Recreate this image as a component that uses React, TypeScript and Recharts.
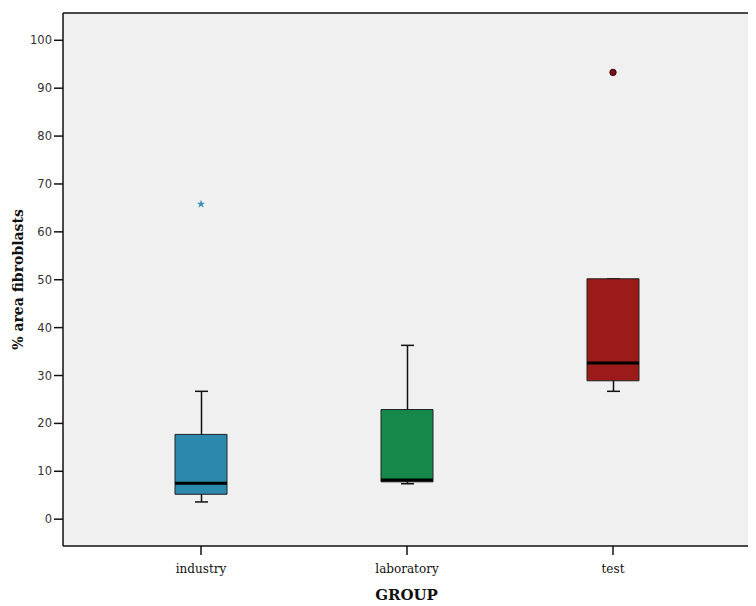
import { ComposedChart, Bar, Scatter, XAxis, YAxis, CartesianGrid, Cell, Symbols } from 'recharts'

const groups = ['industry', 'laboratory', 'test']
const whiskerLow = [3.6, 7.4, 26.7]
const q1 = [5.2, 7.8, 28.9]
const median = [7.5, 8.2, 32.6]
const q3 = [17.7, 22.9, 50.2]
const whiskerHigh = [26.7, 36.3, 50.2]
const starOutliers = [65.8, null, null]
const dotOutliers = [null, null, 93.3]
const yTicks = [0, 10, 20, 30, 40, 50, 60, 70, 80, 90, 100]

const colors = ['#2b89ad', '#15884a', '#9b1a1a']

const data = groups.map((g, i) => ({
  group: g,
  whisker: [whiskerLow[i], whiskerHigh[i]],
  box: [q1[i], q3[i]],
  median: median[i],
  star: starOutliers[i],
  dot: dotOutliers[i],
}))

const serif = '"DejaVu Serif", serif'
const sans = '"DejaVu Sans", sans-serif'

function WhiskerShape(props: any) {
  const { x, y, width, height } = props
  const cx = x + width / 2
  return (
    <g stroke="#111" strokeWidth={1.5}>
      <line x1={cx} x2={cx} y1={y} y2={y + height} />
      <line x1={x} x2={x + width} y1={y} y2={y} />
      <line x1={x} x2={x + width} y1={y + height} y2={y + height} />
    </g>
  )
}

function MedianShape(props: any) {
  const { cx, cy } = props
  return <line x1={cx - 26} x2={cx + 26} y1={cy} y2={cy} stroke="#000" strokeWidth={3} />
}

function StarShape(props: any) {
  const { cx, cy } = props
  if (cy == null || isNaN(cy)) return null
  return <Symbols type="star" cx={cx} cy={cy} size={22} fill="#3a8fb5" />
}

function DotShape(props: any) {
  const { cx, cy } = props
  if (cy == null || isNaN(cy)) return null
  return <circle cx={cx} cy={cy} r={3.2} fill="#7a1418" stroke="#3a0a0a" strokeWidth={1} />
}

export default function App() {
  return (
    <div style={{ width: 748, height: 598 }}>
      <ComposedChart
        width={748}
        height={598}
        data={data}
        margin={{ top: 4, right: 5, bottom: 0, left: 0 }}
      >
        <CartesianGrid fill="#f0f0f0" horizontal={false} vertical={false} />
        <XAxis
          xAxisId="main"
          dataKey="group"
          allowDuplicatedCategory={false}
          padding={{ left: 35, right: 34 }}
          height={60}
          stroke="#111"
          strokeWidth={1.5}
          tickSize={9}
          tickMargin={9}
          tick={{ fill: '#111', fontFamily: serif, fontSize: 12 }}
          label={{
            value: 'GROUP',
            position: 'insideBottom',
            offset: 6,
            fill: '#111',
            fontFamily: serif,
            fontSize: 15,
            fontWeight: 'bold',
          }}
        />
        <XAxis
          xAxisId="w"
          dataKey="group"
          allowDuplicatedCategory={false}
          padding={{ left: 35, right: 34 }}
          hide
        />
        <XAxis
          xAxisId="top"
          dataKey="group"
          orientation="top"
          allowDuplicatedCategory={false}
          height={1}
          tick={false}
          tickLine={false}
          stroke="#111"
          strokeWidth={1.5}
        />
        <YAxis
          domain={[-5.6, 105.7]}
          ticks={yTicks}
          width={55}
          stroke="#111"
          strokeWidth={1.5}
          tickSize={9}
          tickMargin={2}
          tick={{ fill: '#333', fontFamily: sans, fontSize: 11.5 }}
          allowDataOverflow
          label={{
            value: '% area fibroblasts',
            angle: -90,
            position: 'center',
            dx: -17,
            fill: '#111',
            fontFamily: serif,
            fontSize: 14,
            fontWeight: 'bold',
          }}
        />
        <YAxis
          yAxisId="right"
          orientation="right"
          width={1}
          tick={false}
          tickLine={false}
          stroke="#111"
          strokeWidth={1.5}
        />
        <Bar
          xAxisId="w"
          dataKey="whisker"
          barSize={13}
          shape={WhiskerShape}
          isAnimationActive={false}
        />
        <Bar
          xAxisId="main"
          dataKey="box"
          barSize={52}
          stroke="#222"
          strokeWidth={1}
          isAnimationActive={false}
        >
          {data.map((d, i) => (
            <Cell key={d.group} fill={colors[i]} />
          ))}
        </Bar>
        <Scatter xAxisId="main" dataKey="median" shape={MedianShape} isAnimationActive={false} />
        <Scatter xAxisId="main" dataKey="star" shape={StarShape} isAnimationActive={false} />
        <Scatter xAxisId="main" dataKey="dot" shape={DotShape} isAnimationActive={false} />
      </ComposedChart>
    </div>
  )
}
